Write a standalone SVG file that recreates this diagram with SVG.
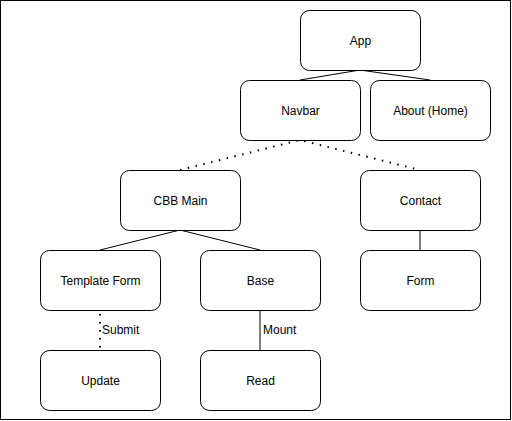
<svg xmlns="http://www.w3.org/2000/svg" width="512" height="421" viewBox="0 0 512 421">
<style>
.n rect{fill:#fff;stroke:#000;stroke-width:1}
.n text,.lbl{font-family:"Liberation Sans",Arial,sans-serif;font-size:12px;fill:#000}
.n text{text-anchor:middle;dominant-baseline:central}
.c{stroke:#000;stroke-width:1;fill:none}
.d{stroke-width:2;stroke-dasharray:1.5 6.5}
</style>
<rect x="0.5" y="0.5" width="510" height="419" fill="#fff" stroke="#000"/>
<g id="connectors">
<polyline class="c" points="300,80 360,70 430,80"/>
<polyline class="c d" points="180,170 300,140 420,170"/>
<polyline class="c" points="100,250 180,230 260,250"/>
<line class="c" x1="420" y1="230" x2="420" y2="250"/>
<line class="c d" x1="100" y1="314" x2="100" y2="350"/>
<line class="c" x1="260" y1="310" x2="260" y2="350"/>
<text class="lbl" x="102" y="334">Submit</text>
<text class="lbl" x="263" y="334">Mount</text>
</g>
<g id="app" class="n"><rect x="300.5" y="10.5" width="120" height="60" rx="9"/><text x="360.5" y="40.5">App</text></g>
<g id="navbar" class="n"><rect x="240.5" y="80.5" width="120" height="60" rx="9"/><text x="300.5" y="110.5">Navbar</text></g>
<g id="about" class="n"><rect x="370.5" y="80.5" width="120" height="60" rx="9"/><text x="430.5" y="110.5">About (Home)</text></g>
<g id="cbbmain" class="n"><rect x="120.5" y="170.5" width="120" height="60" rx="9"/><text x="180.5" y="200.5">CBB Main</text></g>
<g id="contact" class="n"><rect x="360.5" y="170.5" width="120" height="60" rx="9"/><text x="420.5" y="200.5">Contact</text></g>
<g id="templateform" class="n"><rect x="40.5" y="250.5" width="120" height="60" rx="9"/><text x="100.5" y="280.5">Template Form</text></g>
<g id="base" class="n"><rect x="200.5" y="250.5" width="120" height="60" rx="9"/><text x="260.5" y="280.5">Base</text></g>
<g id="form" class="n"><rect x="360.5" y="250.5" width="120" height="60" rx="9"/><text x="420.5" y="280.5">Form</text></g>
<g id="update" class="n"><rect x="40.5" y="350.5" width="120" height="60" rx="9"/><text x="100.5" y="380.5">Update</text></g>
<g id="read" class="n"><rect x="200.5" y="350.5" width="120" height="60" rx="9"/><text x="260.5" y="380.5">Read</text></g>
</svg>
